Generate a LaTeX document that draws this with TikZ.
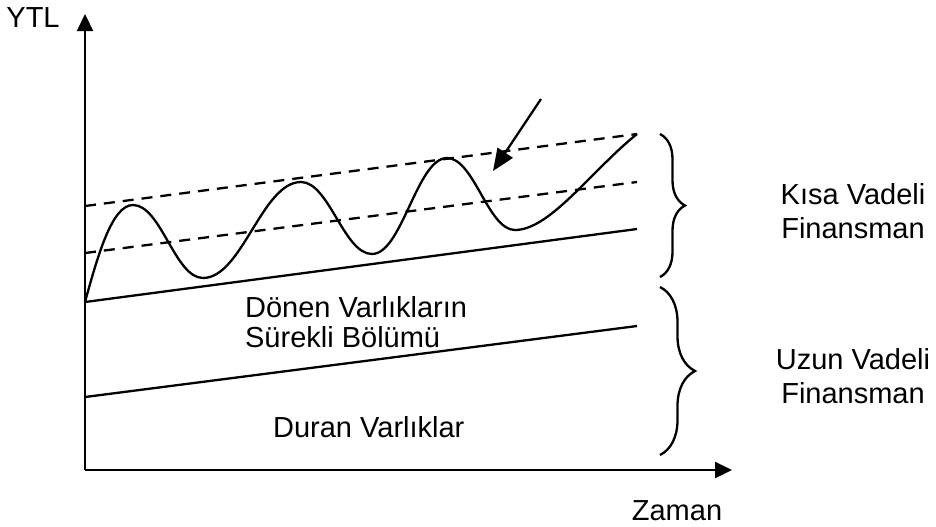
\documentclass[tikz,border=0pt]{standalone}
\usepackage{fontspec}
\setmainfont{Liberation Sans}
\usetikzlibrary{arrows.meta,decorations.pathreplacing}

\begin{document}
\begin{tikzpicture}[x=0.5pt,y=-0.5pt,line width=1.15pt,
  lbl/.style={font=\fontsize{14.5}{17}\selectfont,inner sep=0pt},
  dsh/.style={dash pattern=on 5.5pt off 4pt},
  axarrow/.style={-{Triangle[length=8.5pt,width=8pt]}},
  brc/.style={decorate,decoration={brace,amplitude=#1}}]
  \useasboundingbox (0,0) rectangle (936,526);
  % axis
  \coordinate (O) at (85,470);
  \coordinate (ytop) at (85,14);
  \coordinate (xend) at (732,470);
  \draw[axarrow] (O) -- (ytop);
  \draw[axarrow] (O) -- (xend);
  \node[lbl] (ytl) at (33,18) {YTL};
  \node[lbl] (zaman) at (677,511) {Zaman};
  % trend lines: left y, right y, style
  \foreach \ya/\yb/\sty in {397/326/solid,302/229/solid,253/182/dsh,206/134/dsh}
    \draw[\sty] (85,\ya) -- (637,\yb);
  % wave
  \draw (85,302) .. controls (98,255) and (112,205) .. (133,205)
    .. controls (161,205) and (175,278) .. (203,278)
    .. controls (242,278) and (262,182) .. (301,182)
    .. controls (329,182) and (344,254) .. (372,254)
    .. controls (402,254) and (417,158) .. (447,158)
    .. controls (474,158) and (488,230) .. (515,230)
    .. controls (550,230) and (592,170) .. (637,134);
  % pointer
  \coordinate (ptr) at (541,99);
  \coordinate (ptrtip) at (493,171);
  \draw[-{Triangle[length=11pt,width=9pt]}] (ptr) -- (ptrtip);
  % braces
  \draw[brc=12.5pt] (660,134) -- (660,277);
  \draw[brc=17.5pt] (660,287) -- (660,455);
  % labels
  \node[lbl,align=left,anchor=north west,font=\fontsize{14.5}{15}\selectfont] (donen) at (244,295) {Dönen Varlıkların\\Sürekli Bölümü};
  \node[lbl,anchor=west] (duran) at (272,427) {Duran Varlıklar};
  \node[lbl,align=center,anchor=north] (kisa) at (853,182) {Kısa Vadeli\\Finansman};
  \node[lbl,align=center,anchor=north] (uzun) at (853,347) {Uzun Vadeli\\Finansman};
\end{tikzpicture}
\end{document}
